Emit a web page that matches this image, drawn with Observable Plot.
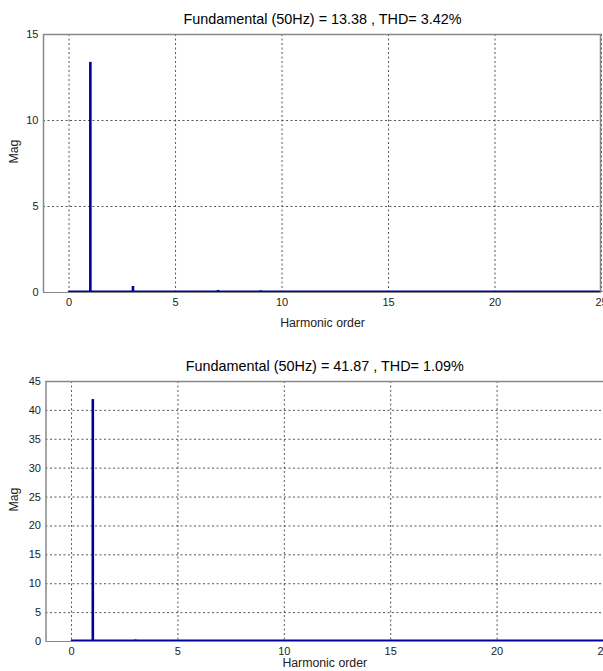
<!DOCTYPE html>
<html>
<head>
<meta charset="utf-8">
<script src="https://cdn.jsdelivr.net/npm/d3@7"></script>
<script src="https://cdn.jsdelivr.net/npm/@observablehq/plot@0.6"></script>
<style>
  body { margin: 0; background: #fff; width: 603px; height: 671px; overflow: hidden; }
  #wrap svg { display: block; font-family: "Liberation Sans", Arial, sans-serif; }
</style>
</head>
<body>
<div id="wrap"></div>
<script>
// ---- data ----
const harmonicOrder = [0,1,2,3,4,5,6,7,8,9,10,11,12,13,14,15,16,17,18,19,20,21,22,23,24,25];
const magTop =    [0.04,13.38,0.03,0.35,0.03,0.05,0.03,0.12,0.03,0.09,0.03,0.05,0.02,0.04,0.02,0.04,0.02,0.03,0.02,0.03,0.02,0.03,0.02,0.02,0.02,0.02];
const magBottom = [0.04,41.87,0.03,0.25,0.03,0.06,0.03,0.08,0.03,0.06,0.03,0.05,0.02,0.04,0.02,0.04,0.02,0.03,0.02,0.03,0.02,0.03,0.02,0.02,0.02,0.02];
const titleTop = "Fundamental (50Hz) = 13.38 , THD= 3.42%";
const titleBottom = "Fundamental (50Hz) = 41.87 , THD= 1.09%";
const xTicks = [0,5,10,15,20,25];
const yTicksTop = [0,5,10,15];
const yTicksBottom = [0,5,10,15,20,25,30,35,40,45];
const xLabel = "Harmonic order";
const yLabel = "Mag";

const navy = "#00009a";
const gridColor = "#444";

function panel({mags, title, yTicks, yMax, height, marginTop, marginBottom, marginLeft, marginRight, rightBorder, xLabelDy}) {
  const data = harmonicOrder.map((h, i) => ({h, m: mags[i]}));
  return Plot.plot({
    width: 603,
    height,
    marginTop, marginBottom, marginLeft, marginRight,
    style: {fontFamily: "Liberation Sans, Arial, sans-serif", fontSize: "11px", color: "#222", overflow: "visible"},
    x: {domain: [-1.2, 25], label: null},
    y: {domain: [0, yMax], label: null},
    marks: [
      Plot.gridX(xTicks, {stroke: gridColor, strokeOpacity: 0.9, strokeDasharray: "2,2.5", strokeWidth: 1}),
      Plot.gridY(yTicks.filter(v => v > 0 && v < yMax), {stroke: gridColor, strokeOpacity: 0.9, strokeDasharray: "2,2.5", strokeWidth: 1}),
      Plot.axisX(xTicks, {tickSize: 0, tickPadding: 6, fill: "#222", fontSize: 11, tickFormat: d => String(d), label: null}),
      Plot.axisY(yTicks, {tickSize: 0, tickPadding: 5, fill: "#222", fontSize: 11, tickFormat: d => String(d), label: null}),
      // spectrum baseline
      Plot.ruleY([0], {x1: 0, x2: 25, stroke: navy, strokeWidth: 2, dy: -1}),
      Plot.ruleX(data, {x: "h", y1: 0, y2: "m", stroke: navy, strokeWidth: 2.6}),
      // axes box
      Plot.ruleX([-1.2], {stroke: "#888", strokeWidth: 1.5}),
      Plot.ruleY([yMax], {stroke: "#888", strokeWidth: 1.5}),
      Plot.ruleY([0], {stroke: "#888", strokeWidth: 1}),
      ...(rightBorder ? [Plot.ruleX([25], {stroke: "#888", strokeWidth: 1.5, dx: -1})] : []),
      Plot.text([title], {frameAnchor: "top", dy: -15, text: d => d, fontSize: 14.4, fill: "#000", lineAnchor: "middle"}),
      Plot.text([xLabel], {frameAnchor: "bottom", dy: xLabelDy, text: d => d, fontSize: 12.3, fill: "#222", lineAnchor: "middle"}),
      Plot.text([yLabel], {frameAnchor: "left", dx: -(marginLeft - 14), rotate: -90, text: d => d, fontSize: 12.3, fill: "#222", lineAnchor: "middle"})
    ]
  });
}

const wrap = document.getElementById("wrap");
wrap.appendChild(panel({mags: magTop, title: titleTop, yTicks: yTicksTop, yMax: 15, height: 345, marginTop: 34, marginBottom: 53, marginLeft: 43, marginRight: 2, rightBorder: true, xLabelDy: 31}));
wrap.appendChild(panel({mags: magBottom, title: titleBottom, yTicks: yTicksBottom, yMax: 45, height: 326, marginTop: 36, marginBottom: 30, marginLeft: 45.5, marginRight: 0, rightBorder: false, xLabelDy: 22}));
</script>
</body>
</html>
